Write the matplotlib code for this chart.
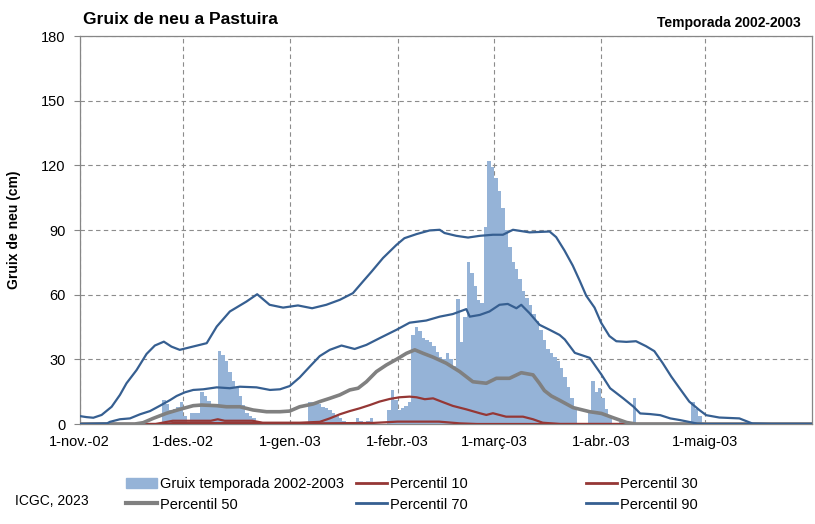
import matplotlib.pyplot as plt
import numpy as np
from matplotlib.lines import Line2D
from matplotlib.patches import Patch

plt.rcParams['font.family'] = ['Liberation Sans', 'DejaVu Sans']

# x axis: days since 1-nov-2002
month_starts = [0, 30, 61, 92, 120, 151, 181]
month_labels = ['1-nov.-02', '1-des.-02', '1-gen.-03', '1-febr.-03',
                '1-març-03', '1-abr.-03', '1-maig-03']

# daily snow depth (cm), season 2002-2003
gruix_nov = [0] * 24 + [11, 9.5, 6.5, 7, 8, 10]
gruix_des = [3.5, 0, 5, 5, 5, 15, 13, 10.5, 9.5, 9.5, 34, 32, 29, 24, 20, 17,
             13, 9, 5, 3.5, 3] + [0] * 10
gruix_gen = [0] * 5 + [10, 10, 10, 9.5, 8, 7.5, 6.5, 5, 3.7, 2.6, 1.5, 0, 0, 0,
                       3, 1.3, 0, 1.5, 3, 0, 0, 0, 0, 6.5, 16, 11]
gruix_feb = [6.5, 7.5, 8.5, 10, 41.5, 45, 43, 40, 39, 38, 36, 33.5, 31, 30, 33,
             30, 27, 58, 38, 49.5, 75, 70, 64, 57.5, 56, 91.5, 122, 119]
gruix_mar = [114, 108, 100, 90, 82, 75, 72, 67.5, 61.5, 58.5, 55, 51, 48, 43.5,
             39, 35, 33, 31, 29, 26, 22, 17, 12, 7, 0, 0, 0, 5, 20, 15, 16.5]
gruix_abr = [12, 7, 3.4, 0, 0, 0.7, 0, 0, 0, 12] + [0] * 16 + [10, 7, 3.5, 0]
gruix_mai = [0] * 31

# percentile curves (day, cm)
p10_day = [0, 25, 27, 55, 60, 85, 92, 104, 110, 115, 212]
p10_val = [0, 0, 0.4, 0.4, 0.2, 0.5, 1.1, 1.1, 0.3, 0, 0]

p30_day = [0, 22, 27, 38, 40, 42, 50, 53, 63.7, 69.5, 72.4, 75.3, 78.2, 81.1,
           84, 86.8, 89.7, 92.6, 95.5, 97.5, 99.9, 102.3, 105.2, 108, 111.9,
           115.8, 117.7, 119.6, 123.4, 128.3, 131.2, 134, 139, 212]
p30_val = [0, 0, 1.5, 1.5, 2.2, 1.5, 1.5, 0.6, 0.6, 1, 2.6, 4.5, 6, 7.3, 8.8,
           10.4, 11.6, 12.4, 12.7, 12.4, 11.5, 11.9, 10.1, 8.4, 6.8, 5, 4.2, 5,
           3.4, 3.4, 2.2, 0.6, 0, 0]

p50_day = [0, 16, 18.4, 21.3, 25.2, 29, 32.9, 35.3, 39.7, 42.5, 46.4, 50.2,
           54.1, 58, 60.8, 63.7, 67.6, 69.5, 72.4, 75.3, 78.2, 80.6, 83, 85.9,
           88.8, 91.7, 94.6, 97, 99.4, 102.3, 106.1, 110, 113.8, 117.7, 120.6,
           124.4, 127.8, 131.2, 133, 134.5, 136.5, 138.9, 142.8, 147.6, 151,
           154.4, 158.3, 161, 212]
p50_val = [0, 0, 0.6, 2.6, 5, 6.8, 8.5, 8.8, 8.5, 8, 8, 6.5, 5.7, 5.7, 6, 8,
           9.3, 10.4, 11.9, 13.5, 15.8, 16.6, 19.6, 24.3, 27.4, 30, 32.8, 34.4,
           32.8, 31, 28.2, 24.3, 19.6, 18.9, 21.2, 21.2, 23.8, 22.8, 19, 15.5,
           13, 11, 7.6, 5.7, 4.9, 2.9, 0.7, 0, 0]

p70_day = [0, 8, 8.8, 11.7, 14.6, 17.5, 20.4, 23.3, 26.2, 28.1, 30.5, 32.9,
           35.8, 39.7, 43.5, 46.4, 51.2, 55.1, 58, 60.8, 63.7, 66.6, 69.5, 72.4,
           75.8, 79.6, 83, 86.8, 91.7, 95.5, 100.3, 104.2, 108, 111.9, 112.9,
           115.8, 118.6, 121.5, 123.9, 126.4, 127.8, 130.2, 133.1, 136, 138.9,
           140.4, 143.3, 147.6, 151, 153.5, 157.3, 160.3, 162.2, 165.1, 168,
           170.9, 173.8, 178.7, 181, 212]
p70_val = [0, 0.3, 1, 2.2, 2.6, 4.5, 6, 8.5, 11.1, 13, 14.7, 15.8, 16.1, 17,
           16.6, 17.3, 17, 15.8, 16.1, 17.6, 21.6, 26.6, 31.5, 34.4, 36.4, 34.8,
           36.7, 39.8, 43.7, 47, 48, 49.8, 51, 53.3, 49.8, 50.6, 52.2, 55.3,
           55.7, 53.7, 55.3, 51.4, 46, 43.7, 41.3, 39.2, 33, 30.7, 22.9, 16.6,
           11.9, 8, 4.9, 4.6, 4.1, 2.6, 1.8, 0.2, 0, 0]

p90_day = [0, 2, 4, 6.4, 9.3, 11.7, 13.6, 16.5, 19.4, 21.8, 24.4, 26.6, 29,
           32, 34.8, 36.8, 39.7, 43.5, 48.3, 51.4, 55, 58.9, 63.2, 67.3, 71.4,
           75.3, 79.1, 82, 84.5, 87.8, 91.7, 94, 97.5, 101.3, 104.2, 105.6, 109,
           112.4, 115.8, 119.6, 122.5, 125.4, 130.2, 136, 137.9, 140.3, 142.7,
           144.7, 146.6, 149, 150.9, 153.3, 155.3, 158.2, 161, 163.9, 166.3,
           168.7, 171.2, 173.6, 176.4, 179.3, 181.3, 185.1, 190.9, 194.7, 200,
           212]
p90_val = [3.7, 3.2, 2.9, 4.2, 8, 13.5, 18.9, 25, 32.5, 36.4, 38.2, 35.9, 34.4,
           35.6, 36.7, 37.5, 45.2, 52.2, 56.8, 60.2, 55.3, 54, 55, 53.7, 55.3,
           57.6, 60.7, 66.1, 70.7, 77, 83.1, 86.2, 88.1, 89.8, 90.1, 88.6, 87.3,
           86.5, 87.3, 87.8, 87.8, 90.1, 88.9, 89.3, 86.7, 80.5, 73.5, 66.5,
           59.5, 54, 47, 40.8, 38.4, 38.1, 38.4, 36.1, 33.8, 28.3, 22, 16.6,
           10.4, 6.5, 4.1, 3, 2.6, 0.2, 0, 0]

BAR_COLOR = '#95B3D7'
RED = '#953735'
GREY = '#808080'
BLUE = '#365F91'

gruix = np.array(gruix_nov + gruix_des + gruix_gen + gruix_feb
                 + gruix_mar + gruix_abr + gruix_mai)
days = np.arange(len(gruix))

fig = plt.figure(figsize=(8.15, 5.24), dpi=100)
ax = fig.add_axes([79.5 / 815, 100 / 524, (812.3 - 79.5) / 815, 388 / 524])

# no antialiasing so neighbouring bars merge without white seams
ax.bar(days + 0.5, gruix, width=1.0, color=BAR_COLOR, linewidth=0,
       antialiased=False, zorder=2)
ax.plot(p10_day, p10_val, color=RED, lw=1.6, zorder=3)
ax.plot(p30_day, p30_val, color=RED, lw=1.6, zorder=3)
ax.plot(p50_day, p50_val, color=GREY, lw=2.6, zorder=3)
ax.plot(p70_day, p70_val, color=BLUE, lw=1.6, zorder=3)
ax.plot(p90_day, p90_val, color=BLUE, lw=1.6, zorder=3)

ax.set_xlim(0, 212)
ax.set_ylim(0, 180)
ax.set_yticks(np.arange(0, 181, 30))
ax.set_xticks(month_starts)
ax.set_xticklabels(month_labels)
ax.tick_params(axis='y', length=4, width=0.8, color='#868686', pad=6,
               labelsize=10.5)
ax.tick_params(axis='x', length=0, pad=8, labelsize=10.5)
ax.grid(True, color='#8C8C8C', linestyle=(0, (4, 3)), linewidth=0.8, zorder=0)
ax.set_axisbelow(True)
for sp in ax.spines.values():
    sp.set_color('#868686')
    sp.set_linewidth(0.9)

fig.text(83 / 815, 1 - 24 / 524, 'Gruix de neu a Pastuira', fontsize=12.5,
         fontweight='bold', va='baseline', ha='left')
fig.text(800.7 / 815, 1 - 26.7 / 524, 'Temporada 2002-2003', fontsize=10,
         fontweight='bold', va='baseline', ha='right')
fig.text(14 / 815, 1 - 230 / 524, 'Gruix de neu (cm)', fontsize=10,
         fontweight='bold', rotation=90, va='center', ha='center')
fig.text(15 / 815, 1 - 501 / 524, 'ICGC, 2023', fontsize=10,
         va='center', ha='left')

# legend: three columns, two rows
columns = [
    ([Patch(color=BAR_COLOR), Line2D([], [], color=GREY, lw=3)],
     ['Gruix temporada 2002-2003', 'Percentil 50'], 126),
    ([Line2D([], [], color=RED, lw=2), Line2D([], [], color=BLUE, lw=2)],
     ['Percentil 10', 'Percentil 70'], 356),
    ([Line2D([], [], color=RED, lw=2), Line2D([], [], color=BLUE, lw=2)],
     ['Percentil 30', 'Percentil 90'], 586),
]
for handles, labels, x0 in columns:
    fig.legend(handles, labels, loc='upper left',
               bbox_to_anchor=(x0 / 815, 1 - 477 / 524), frameon=False,
               fontsize=10.5, handlelength=2.1, handletextpad=0.2,
               borderpad=0, borderaxespad=0, labelspacing=0.45)

fig.savefig('out.png', dpi=100)
